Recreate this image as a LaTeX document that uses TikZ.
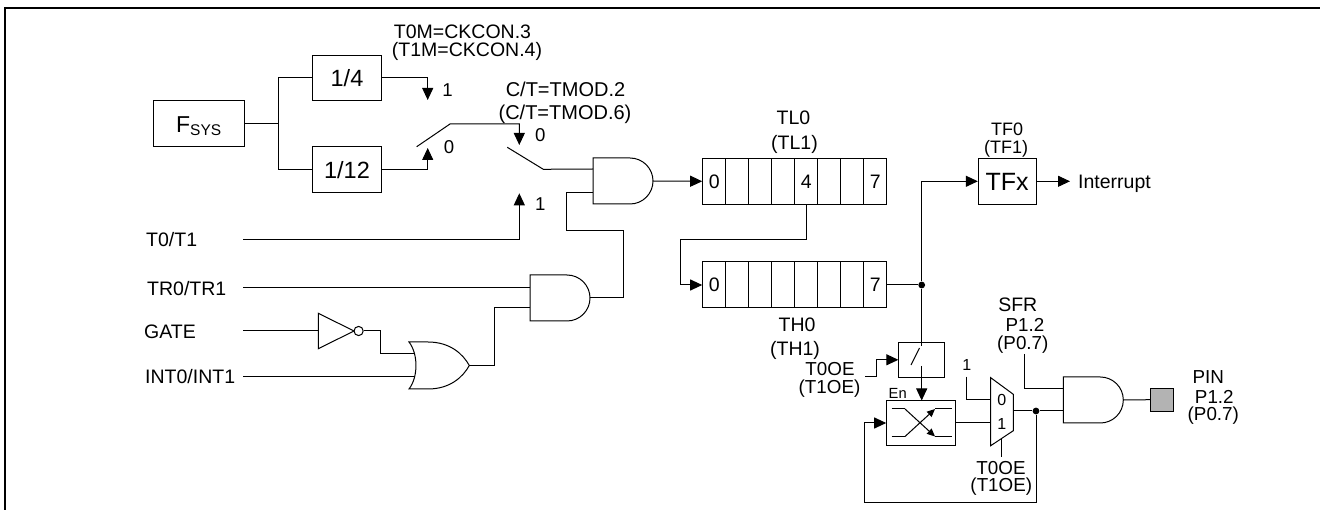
\documentclass[tikz,border=0pt]{standalone}
\usepackage{fontspec}
\setmainfont{Liberation Sans}
\usetikzlibrary{arrows.meta}
\definecolor{pingray}{RGB}{179,179,179}
\newcommand\myfs[1]{\fontsize{#1}{#1}\selectfont}
\newcommand\andgate[3]{%
  \draw[gate] ({#1},{#2-23}) -- ({#1+37},{#2-23})
     .. controls ({#1+49.7},{#2-23}) and ({#1+60},{#2-12.7}) .. ({#1+60},{#2})
     .. controls ({#1+60},{#2+12.7}) and ({#1+49.7},{#2+23}) .. ({#1+37},{#2+23})
     -- ({#1},{#2+23}) -- cycle;
  \coordinate (#3out) at ({#1+60},{#2});}
\begin{document}
\begin{tikzpicture}[x=1pt,y=-1pt,
  wire/.style={line width=1pt},
  gate/.style={line width=1pt},
  arr/.style={line width=1pt,-{Triangle[length=12pt,width=11pt]}},
  sarr/.style={line width=1pt,-{Triangle[length=8pt,width=7pt]}},
  box/.style={draw,line width=1pt,inner sep=0pt},
  lb/.style={inner sep=0pt,text depth=0pt,font=\myfs{19.5},text height=14pt},
  ltight/.style={inner sep=0pt,text depth=0pt,font=\myfs{18.8},text height=13.4pt},
  lct/.style={inner sep=0pt,text depth=0pt,font=\myfs{20},text height=14.3pt},
  lmid/.style={inner sep=0pt,text depth=0pt,font=\myfs{18},text height=12.9pt},
  ldig/.style={inner sep=0pt,text depth=0pt,font=\myfs{18.6},text height=13.3pt},
  lmux/.style={inner sep=0pt,text depth=0pt,font=\myfs{16},text height=11.5pt},
  len/.style={inner sep=0pt,text depth=0pt,font=\myfs{14.7},text height=10.5pt},
  dot/.style={circle,fill,inner sep=0pt,minimum size=6.8pt}
]
\useasboundingbox (0,0) rectangle (1320,510);
% frame
\draw[line width=2pt] (5,510) -- (5,8) -- (1320,8);

% ---------- clock source ----------
\node[box,minimum width=91pt,minimum height=46pt,text height=16.5pt,text depth=0pt] (fsys) at (198.7,124)
  {\myfs{23}F\raisebox{-3.3pt}{\myfs{15.5}SYS}};
\node[box,minimum width=69.4pt,minimum height=45.7pt,font=\myfs{23.5},text height=16.8pt,text depth=0pt] (q4) at (347,77.9) {1/4};
\node[box,minimum width=69.4pt,minimum height=46pt,font=\myfs{23.5},text height=16.8pt,text depth=0pt] (q12) at (347,169.7) {1/12};
\coordinate (br) at (278.3,124);
\draw[wire] (fsys.east) -- (br);
\draw[wire] (q4.west) -| (br) |- (q12.west);

\coordinate (s1a) at (427.7,100);
\coordinate (s1b) at (427.7,148);
\draw[arr] (q4.east) -| (s1a);
\draw[arr] (q12.east) -| (s1b);
\node[ldig] (l1a) at (447.5,90) {1};
\node[ldig] (l0a) at (449,146.7) {0};
\node[lb] (ckc1) at (462.5,31.7) {T0M=CKCON.3};
\node[lb] (ckc2) at (467,50) {(T1M=CKCON.4)};

% switch 1 lever
\coordinate (lv1a) at (416.7,146.7);
\coordinate (lv1b) at (450,124);
\coordinate (s2a) at (519.3,145);
\draw[arr] (lv1a) -- (lv1b) -| (s2a);
\node[ldig] (l0b) at (540.3,135) {0};
\node[ldig] (l1b) at (540.3,203.7) {1};
\node[lct] (ct1) at (565.5,89.5) {C/T=TMOD.2};
\node[lct] (ct2) at (565,112.5) {(C/T=TMOD.6)};

% ---------- inputs ----------
\node[lb,anchor=west] (t0t1) at (146,239.3) {T0/T1};
\node[lb,anchor=west] (tr) at (147,288.3) {TR0/TR1};
\node[lb,anchor=west] (gatel) at (144,331.7) {GATE};
\node[lb,anchor=west] (intl) at (145,376.7) {INT0/INT1};

\coordinate (t0t1e) at (243.3,239.3);
\coordinate (s2b) at (519.3,193.3);
\draw[arr] (t0t1e) -| (s2b);

% switch 2 lever + AND1
\andgate{593}{181}{a1}
\coordinate (a1in1) at (593,169);
\coordinate (a1in2) at (593,193);
\coordinate (lv2a) at (507.3,147.3);
\coordinate (lv2b) at (543.3,169.3);
\draw[wire] (lv2a) -- (lv2b) -- (a1in1);

% AND2
\andgate{530}{298}{a2}
\coordinate (a2in1) at (530,288);
\coordinate (a2in2) at (530,308);
\coordinate (tre) at (243.3,288);
\draw[wire] (tre) -- (a2in1);
\draw[wire] (a2out) -| (623.3,231) -| (566.7,193) -- (a1in2);

% inverter
\draw[gate] (318.3,313.3) -- (354,331) -- (318.3,348.7) -- cycle;
\node[circle,draw,line width=1pt,minimum size=9.2pt,inner sep=0pt] (bub) at (358.6,331) {};
\coordinate (gatee) at (243.3,331);
\coordinate (invin) at (318.3,331);
\draw[wire] (gatee) -- (invin);

% OR gate
\draw[gate] (409,342) -- (428,342) .. controls (450,342) and (463,354) .. (469.3,365.5)
  .. controls (463,377) and (450,389) .. (428,389) -- (409,389)
  .. controls (418.3,377) and (418.3,354) .. (409,342) -- cycle;
\coordinate (orin1) at (414.6,354);
\coordinate (orin2) at (414.6,377);
\coordinate (orout) at (469.3,365.5);
\coordinate (inte) at (243.3,377);
\draw[wire] (bub.east) -| (380.7,354) -- (orin1);
\draw[wire] (inte) -- (orin2);
\draw[wire] (orout) -| (494.3,308) -- (a2in2);

% ---------- registers ----------
\node[box,minimum width=184pt,minimum height=46pt] (tl0) at (794.7,181.3) {};
\node[box,minimum width=184pt,minimum height=46pt] (th0) at (794.7,285) {};
\foreach \i in {1,...,7}{
  \draw[wire] ({702.7+23*\i},158.3) -- ({702.7+23*\i},204.3);
  \draw[wire] ({702.7+23*\i},262) -- ({702.7+23*\i},308);
}
\node[lb] (tlb0) at (714.2,181.3) {0};
\node[lb] (tlb4) at (806.2,181.3) {4};
\node[lb] (tlb7) at (875.2,181.3) {7};
\node[lb] (thb0) at (714.2,285) {0};
\node[lb] (thb7) at (875.2,285) {7};
\node[lb] (tl0n) at (793.5,118) {TL0};
\node[lb] (tl0p) at (794.5,143) {(TL1)};
\node[lb] (th0n) at (797,325) {TH0};
\node[lb] (th0p) at (795,348.3) {(TH1)};

\draw[arr] (a1out) -- (tl0.west);
\coordinate (b4) at (806.2,204.3);
\draw[arr] (b4) -- (806.2,239.3) -| (680.7,285) -- (th0.west);

% ---------- TFx ----------
\node[box,minimum width=57.7pt,minimum height=45.7pt,font=\myfs{25},text height=17.9pt,text depth=0pt] (tfx) at (1007.2,181.3) {TFx};
\node[lmid] (tf0n) at (1007,129.3) {TF0};
\node[lmid] (tf0p) at (1006,146.7) {(TF1)};
\coordinate (intr) at (1070,181.3);
\draw[arr] (tfx.east) -- (intr);
\node[lb,anchor=west] (intrl) at (1078,181.3) {Interrupt};

\node[dot] (jn) at (921.7,285) {};
\draw[wire] (th0.east) -- (jn);
\draw[arr] (jn) |- (tfx.west);

% ---------- switch box ----------
\node[box,minimum width=45.7pt,minimum height=35pt] (sw) at (921.7,359.8) {};
\draw[wire] (jn) -- (921.7,346);
\draw[wire] (911,365) -- (919.5,348);
\node[ltight] (oe1) at (830,369.3) {T0OE};
\node[ltight] (oe1p) at (829.5,387) {(T1OE)};
\coordinate (oein) at (865,376.7);
\draw[arr] (oein) -- (876,376.7) |- (sw.west);

% ---------- toggle box ----------
\node[box,minimum width=69pt,minimum height=45pt] (tg) at (921.2,423) {};
\node[len] (en) at (897.7,393.3) {En};
\coordinate (swb) at (921.7,366);
\draw[arr] (swb) -- (921.7,400.5);
\draw[wire] (891.7,409) -- (905,409);
\draw[wire] (935,409) -- (951.7,409);
\draw[wire] (891.7,436.5) -- (905,436.5);
\draw[wire] (935,436.5) -- (951.7,436.5);
\draw[sarr] (905,409) -- (935,436.5);
\draw[sarr] (905,436.5) -- (935,409);

% ---------- mux ----------
\draw[gate] (990.7,377.7) -- (1013.3,394.3) -- (1013.3,430.7) -- (990.7,445.7) -- cycle;
\coordinate (mux0) at (990.7,399.3);
\coordinate (mux1) at (990.7,423);
\coordinate (muxo) at (1013.3,411);
\node[lmux] (m0) at (1001.7,399.3) {0};
\node[lmux] (m1) at (1001.7,423.3) {1};
\draw[wire] (tg.east) -- (mux1);
\node[lmux] (one) at (966.7,365) {1};
\coordinate (onein) at (966.7,376.7);
\draw[wire] (onein) |- (mux0);
\coordinate (msel) at (1001.7,438.4);
\coordinate (mselb) at (1001.7,456.7);
\draw[wire] (msel) -- (mselb);
\node[ltight] (oe2) at (1001,467.5) {T0OE};
\node[ltight] (oe2p) at (1001.3,485) {(T1OE)};

% ---------- AND3 and pin ----------
\andgate{1063.3}{400}{a3}
\coordinate (a3in1) at (1063.3,388.3);
\coordinate (a3in2) at (1063.3,411);
\node[dot] (j2) at (1036,411) {};
\draw[wire] (muxo) -- (j2) -- (a3in2);
\draw[arr] (j2) -- (1036,502.7) -| (864.3,423) -- (tg.west);
\node[lb] (sfr1) at (1017.8,305) {SFR};
\node[ltight] (sfr2) at (1025,325) {P1.2};
\node[ltight] (sfr3) at (1022.8,342.5) {(P0.7)};
\coordinate (sfrb) at (1024.3,354);
\draw[wire] (sfrb) |- (a3in1);
\node[draw,fill=pingray,line width=1pt,minimum width=23.3pt,minimum height=22.7pt,inner sep=0pt] (pin) at (1162.3,399.7) {};
\draw[wire] (a3out) -- (pin.west);
\node[ltight] (pinl) at (1208.3,377.3) {PIN};
\node[ltight] (pinp) at (1214.3,396.7) {P1.2};
\node[ltight] (pinq) at (1213.3,413.8) {(P0.7)};
\end{tikzpicture}
\end{document}
